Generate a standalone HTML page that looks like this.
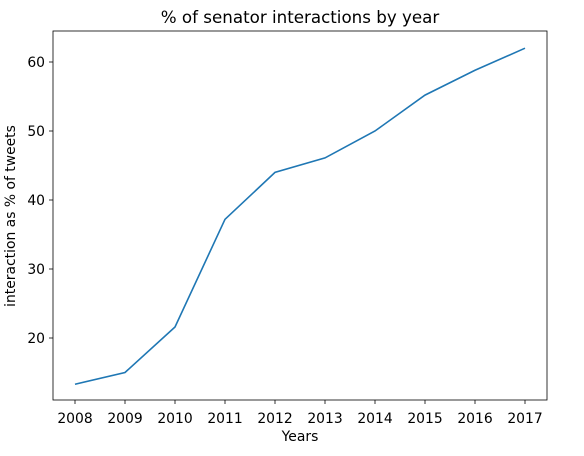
<!DOCTYPE html>
<html><head><meta charset="utf-8"><style>
body{margin:0;background:#fff;}
svg{font-family:"DejaVu Sans","Liberation Sans",sans-serif;}
</style></head><body>
<svg id="chart" width="584" height="451">
<rect x="0" y="0" width="584" height="451" fill="#fff"/>
<text x="300" y="23" text-anchor="middle" font-size="16.7">% of senator interactions by year</text>
<g id="xticks"></g>
<g id="yticks"></g>
<path id="line" fill="none" stroke="#1f77b4" stroke-width="1.6"/>
<rect x="53" y="31" width="494" height="369" fill="none" stroke="#000" stroke-width="0.8"/>
<text x="300" y="441" text-anchor="middle" font-size="13.9">Years</text>
<text transform="translate(15,216) rotate(-90)" text-anchor="middle" font-size="13.9">interaction as % of tweets</text>
</svg>
<script>
const years=[2008,2009,2010,2011,2012,2013,2014,2015,2016,2017];
const values=[13.3,15.0,21.6,37.2,44.0,46.1,50.0,55.2,58.8,62.0];
const yTickValues=[20,30,40,50,60];
function xs(v){return 75+(v-2008)*50;}
function ys(v){return 338-(v-20)*6.9;}
const NS="http://www.w3.org/2000/svg";
const xg=document.getElementById('xticks'),yg=document.getElementById('yticks');
years.forEach(y=>{
 const l=document.createElementNS(NS,'line');
 l.setAttribute('x1',xs(y));l.setAttribute('x2',xs(y));l.setAttribute('y1',400);l.setAttribute('y2',404);l.setAttribute('stroke','#000');l.setAttribute('stroke-width','0.8');
 
 
 xg.appendChild(l);
 const t=document.createElementNS(NS,'text');
 t.setAttribute('x',xs(y));t.setAttribute('y',423);t.setAttribute('text-anchor','middle');t.setAttribute('font-size','13.9');t.textContent=y;
 
 
 xg.appendChild(t);
});
yTickValues.forEach(v=>{
 const l=document.createElementNS(NS,'line');
 l.setAttribute('x1',49);l.setAttribute('x2',53);l.setAttribute('y1',ys(v));l.setAttribute('y2',ys(v));l.setAttribute('stroke','#000');l.setAttribute('stroke-width','0.8');
 
 
 yg.appendChild(l);
 const t=document.createElementNS(NS,'text');
 t.setAttribute('x',45);t.setAttribute('y',ys(v)+5);t.setAttribute('text-anchor','end');t.setAttribute('font-size','13.9');t.textContent=v;
 
 
 yg.appendChild(t);
});
document.getElementById('line').setAttribute('d',years.map((y,i)=>(i?'L':'M')+xs(y)+','+ys(values[i])).join(' '));
</script>
</body></html>
